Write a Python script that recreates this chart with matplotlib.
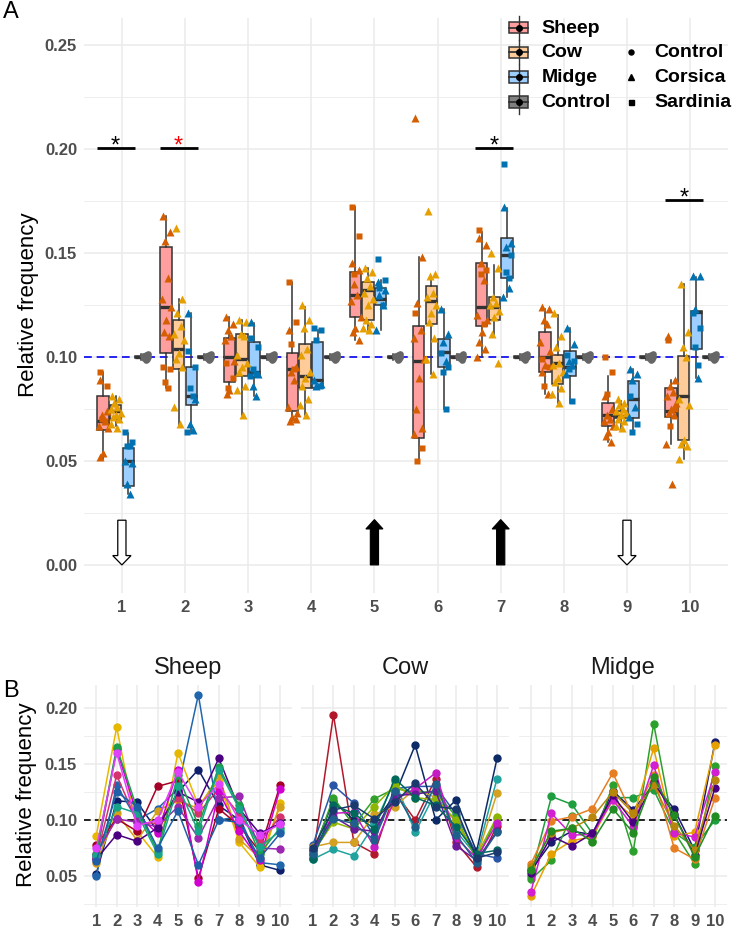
import matplotlib
matplotlib.use('Agg')
import matplotlib.pyplot as plt
from matplotlib.patches import FancyArrow, Rectangle
from matplotlib.lines import Line2D

plt.rcParams['font.family'] = ['Liberation Sans', 'DejaVu Sans']

# ---------------- DATA ----------------
features = [1, 2, 3, 4, 5, 6, 7, 8, 9, 10]
tick_labels = [str(f) for f in features]
species = ['Sheep', 'Cow', 'Midge', 'Control']

# box stats: (whisker low, q1, median, q3, whisker high)
sheep_box = [(0.051, 0.065, 0.069, 0.081, 0.093), (0.085, 0.102, 0.124, 0.153, 0.168),
             (0.082, 0.088, 0.100, 0.109, 0.119), (0.069, 0.074, 0.094, 0.102, 0.136),
             (0.108, 0.119, 0.130, 0.141, 0.172), (0.049, 0.061, 0.098, 0.115, 0.148),
             (0.100, 0.115, 0.124, 0.145, 0.160), (0.082, 0.093, 0.100, 0.112, 0.123),
             (0.059, 0.067, 0.072, 0.078, 0.091), (0.058, 0.071, 0.074, 0.085, 0.089)]
cow_box = [(0.067, 0.070, 0.074, 0.077, 0.081), (0.067, 0.094, 0.104, 0.118, 0.128),
           (0.072, 0.091, 0.099, 0.111, 0.118), (0.072, 0.085, 0.091, 0.106, 0.124),
           (0.113, 0.118, 0.132, 0.136, 0.143), (0.092, 0.116, 0.127, 0.134, 0.139),
           (0.111, 0.118, 0.124, 0.129, 0.144), (0.078, 0.087, 0.097, 0.101, 0.120),
           (0.065, 0.0705, 0.0716, 0.0742, 0.079), (0.051, 0.060, 0.081, 0.1005, 0.135)]
midge_box = [(0.034, 0.038, 0.050, 0.056, 0.0635), (0.064, 0.077, 0.081, 0.095, 0.121),
             (0.081, 0.0905, 0.093, 0.107, 0.1165), (0.085, 0.085, 0.089, 0.107, 0.113),
             (0.113, 0.125, 0.128, 0.133, 0.137), (0.075, 0.095, 0.1026, 0.1085, 0.123),
             (0.129, 0.138, 0.149, 0.157, 0.1715), (0.078, 0.091, 0.095, 0.103, 0.114),
             (0.0636, 0.0705, 0.080, 0.0886, 0.094), (0.090, 0.104, 0.1215, 0.1223, 0.1386)]
control_box = (0.0985, 0.0995, 0.1000, 0.1005, 0.1015)

# points (Corsica = triangles, Sardinia = squares, Control = circles)
sheep_corsica = [[0.089, 0.074, 0.072, 0.069, 0.067, 0.066, 0.054, 0.052],
                 [0.168, 0.160, 0.156, 0.138, 0.128, 0.124, 0.118, 0.112, 0.110],
                 [0.119, 0.116, 0.113, 0.110, 0.108, 0.098, 0.084, 0.082],
                 [0.113, 0.095, 0.093, 0.089, 0.076, 0.073, 0.071, 0.069, 0.070],
                 [0.145, 0.142, 0.135, 0.130, 0.127, 0.119, 0.114, 0.112, 0.108],
                 [0.215, 0.148, 0.126, 0.113, 0.109, 0.099, 0.090, 0.075, 0.066, 0.063],
                 [0.157, 0.154, 0.145, 0.137, 0.120, 0.118, 0.112, 0.107, 0.104, 0.100],
                 [0.124, 0.123, 0.118, 0.116, 0.107, 0.103, 0.096, 0.093, 0.082],
                 [0.081, 0.075, 0.072, 0.070, 0.069, 0.067, 0.064, 0.062, 0.059],
                 [0.110, 0.089, 0.086, 0.083, 0.081, 0.078, 0.075, 0.073, 0.072, 0.058, 0.039]]
sheep_sardinia = [[0.093, 0.086, 0.070, 0.069], [0.095, 0.094, 0.088, 0.085],
                  [0.097, 0.090, 0.085], [0.136, 0.117, 0.106, 0.094],
                  [0.172, 0.158, 0.140], [0.121, 0.056, 0.050],
                  [0.161, 0.142, 0.140, 0.116], [0.099, 0.095, 0.086],
                  [0.100, 0.093, 0.082], [0.108, 0.075, 0.067]]
cow_corsica = [[0.081, 0.080, 0.078, 0.076, 0.075, 0.073, 0.072, 0.071, 0.070, 0.068, 0.066],
               [0.162, 0.128, 0.121, 0.115, 0.111, 0.108, 0.102, 0.099, 0.095, 0.076, 0.068],
               [0.118, 0.117, 0.111, 0.110, 0.101, 0.097, 0.095, 0.093, 0.086, 0.084, 0.072],
               [0.125, 0.118, 0.114, 0.104, 0.101, 0.093, 0.090, 0.086, 0.080, 0.077, 0.072],
               [0.143, 0.141, 0.138, 0.134, 0.131, 0.128, 0.125, 0.118, 0.116, 0.114, 0.113],
               [0.170, 0.140, 0.139, 0.131, 0.129, 0.125, 0.121, 0.117, 0.109, 0.099, 0.092],
               [0.150, 0.143, 0.129, 0.126, 0.125, 0.122, 0.119, 0.111, 0.097],
               [0.121, 0.110, 0.105, 0.097, 0.096, 0.093, 0.090, 0.088, 0.085, 0.082, 0.078],
               [0.080, 0.078, 0.077, 0.075, 0.074, 0.073, 0.072, 0.070, 0.069, 0.067, 0.066],
               [0.135, 0.112, 0.105, 0.100, 0.080, 0.077, 0.060, 0.058, 0.057, 0.051]]
midge_corsica = [[0.050, 0.049, 0.039, 0.034], [0.121, 0.080, 0.068, 0.065],
                 [0.117, 0.092, 0.086, 0.081], [0.089, 0.087, 0.086],
                 [0.136, 0.132, 0.130, 0.125, 0.113], [0.123, 0.111, 0.107, 0.098],
                 [0.172, 0.155, 0.153, 0.133, 0.129], [0.114, 0.106, 0.098, 0.096, 0.092],
                 [0.094, 0.092, 0.089, 0.076, 0.071], [0.139, 0.139, 0.123, 0.090]]
midge_sardinia = [[0.064, 0.059, 0.057, 0.057], [0.103, 0.095, 0.085, 0.081, 0.064],
                  [0.109, 0.105, 0.094, 0.092, 0.091], [0.114, 0.113, 0.108, 0.086],
                  [0.147, 0.137, 0.133, 0.125], [0.102, 0.095, 0.093, 0.075],
                  [0.193, 0.149, 0.141, 0.138], [0.101, 0.098, 0.094, 0.079],
                  [0.081, 0.068, 0.064], [0.121, 0.114, 0.105, 0.096]]
control_points = [0.0985, 0.0990, 0.0993, 0.0996, 0.1000, 0.1002, 0.1004, 0.1007, 0.1010, 0.1015]

# significance marks
sig_features = [1, 2, 7, 10]
sig_levels = [0.2005, 0.2005, 0.2005, 0.1755]
sig_colors = ['black', 'red', 'black', 'black']

# arrows
arrow_features = [1, 5, 7, 9]
arrow_up = [False, True, True, False]

# panel B: individual profiles
sheep_lines = {
    '#0D1F6B': [0.052, 0.117, 0.116, 0.090, 0.125, 0.145, 0.113, 0.100, 0.060, 0.055],
    '#2166AC': [0.050, 0.131, 0.100, 0.110, 0.128, 0.212, 0.100, 0.103, 0.062, 0.060],
    '#E7B800': [0.086, 0.183, 0.090, 0.067, 0.160, 0.113, 0.135, 0.080, 0.058, 0.115],
    '#D4A017': [0.062, 0.106, 0.082, 0.108, 0.118, 0.110, 0.140, 0.083, 0.066, 0.112],
    '#A50026': [0.078, 0.101, 0.090, 0.130, 0.135, 0.048, 0.110, 0.095, 0.072, 0.131],
    '#D6336C': [0.066, 0.140, 0.098, 0.097, 0.120, 0.106, 0.128, 0.105, 0.080, 0.103],
    '#D100D1': [0.068, 0.163, 0.105, 0.088, 0.145, 0.045, 0.125, 0.090, 0.064, 0.128],
    '#9C27B0': [0.070, 0.101, 0.098, 0.094, 0.112, 0.084, 0.120, 0.121, 0.075, 0.074],
    '#4B0082': [0.065, 0.087, 0.081, 0.093, 0.125, 0.116, 0.155, 0.110, 0.088, 0.097],
    '#1B9E4B': [0.070, 0.165, 0.110, 0.072, 0.140, 0.095, 0.147, 0.113, 0.070, 0.093],
    '#17A589': [0.068, 0.112, 0.106, 0.070, 0.130, 0.090, 0.145, 0.110, 0.076, 0.090],
    '#1F5FA8': [0.063, 0.125, 0.112, 0.075, 0.108, 0.060, 0.100, 0.098, 0.066, 0.088],
    '#E040FB': [0.075, 0.160, 0.095, 0.100, 0.143, 0.112, 0.132, 0.100, 0.087, 0.096],
}
cow_lines = {
    '#B2182B': [0.066, 0.194, 0.080, 0.070, 0.125, 0.100, 0.137, 0.080, 0.058, 0.095],
    '#2A56A8': [0.078, 0.131, 0.115, 0.085, 0.128, 0.130, 0.130, 0.105, 0.070, 0.066],
    '#0B2A66': [0.072, 0.117, 0.100, 0.098, 0.122, 0.167, 0.100, 0.118, 0.072, 0.155],
    '#20A39E': [0.065, 0.074, 0.068, 0.096, 0.135, 0.089, 0.125, 0.090, 0.068, 0.137],
    '#D4A020': [0.076, 0.080, 0.080, 0.105, 0.112, 0.128, 0.120, 0.098, 0.066, 0.124],
    '#33A02C': [0.070, 0.120, 0.095, 0.119, 0.128, 0.125, 0.125, 0.103, 0.064, 0.102],
    '#8DB600': [0.071, 0.098, 0.092, 0.112, 0.131, 0.120, 0.118, 0.100, 0.068, 0.103],
    '#C51BC5': [0.069, 0.106, 0.107, 0.076, 0.118, 0.128, 0.142, 0.084, 0.066, 0.097],
    '#6A1B9A': [0.073, 0.103, 0.092, 0.090, 0.122, 0.123, 0.126, 0.077, 0.064, 0.090],
    '#00695C': [0.065, 0.113, 0.106, 0.092, 0.137, 0.120, 0.113, 0.094, 0.070, 0.073],
    '#1F5F8B': [0.070, 0.101, 0.097, 0.082, 0.126, 0.094, 0.132, 0.087, 0.062, 0.089],
    '#1A3A6E': [0.075, 0.109, 0.113, 0.101, 0.116, 0.133, 0.112, 0.110, 0.066, 0.071],
}
midge_lines = {
    '#1A1A6E': [0.055, 0.080, 0.090, 0.087, 0.126, 0.109, 0.132, 0.110, 0.073, 0.170],
    '#1E9E3E': [0.050, 0.121, 0.114, 0.088, 0.120, 0.120, 0.127, 0.089, 0.076, 0.100],
    '#2CA02C': [0.047, 0.064, 0.104, 0.081, 0.131, 0.072, 0.186, 0.0896, 0.061, 0.148],
    '#E67E22': [0.061, 0.099, 0.103, 0.110, 0.142, 0.103, 0.140, 0.075, 0.065, 0.120],
    '#E6A100': [0.032, 0.070, 0.0815, 0.085, 0.118, 0.103, 0.164, 0.086, 0.089, 0.167],
    '#D21FD2': [0.036, 0.106, 0.0866, 0.087, 0.118, 0.094, 0.149, 0.088, 0.085, 0.143],
    '#4B0082': [0.053, 0.0857, 0.0768, 0.088, 0.122, 0.098, 0.134, 0.105, 0.0688, 0.129],
    '#B8860B': [0.058, 0.0887, 0.0926, 0.1024, 0.125, 0.106, 0.131, 0.095, 0.073, 0.136],
    '#228B22': [0.0554, 0.090, 0.0926, 0.0807, 0.110, 0.0887, 0.138, 0.1045, 0.067, 0.104],
}

# ---------------- STYLE ----------------
box_fill = {'Sheep': '#FF9E9E', 'Cow': '#FFCC99', 'Midge': '#9CCFFF', 'Control': '#808080'}
pt_color = {'Sheep': '#D55E00', 'Cow': '#E69F00', 'Midge': '#0072B2', 'Control': '#666666'}
offset = {'Sheep': -0.3, 'Cow': -0.1, 'Midge': 0.1, 'Control': 0.3}
edge = '#333333'
tick_col = '#4D4D4D'
grid_col = '#EBEBEB'
jit = [-0.05, 0.06, -0.02, 0.03, -0.07, 0.08, 0.0, -0.04, 0.05, -0.08, 0.02, 0.07]

W, H = 733, 927
fig = plt.figure(figsize=(W / 100, H / 100), dpi=100)


def frac(l, t, r, b):
    return [l / W, 1 - b / H, (r - l) / W, (b - t) / H]


def base_style(ax, yt, ymin_t, show_y=True):
    for s in ax.spines.values():
        s.set_visible(False)
    ax.set_xticks(features)
    ax.set_xticklabels(tick_labels, fontweight='bold', fontsize=12, color=tick_col)
    ax.set_yticks(yt)
    if show_y:
        ax.set_yticklabels(['%.2f' % v for v in yt], fontweight='bold', fontsize=12, color=tick_col)
    else:
        ax.set_yticklabels([])
    ax.set_yticks(ymin_t, minor=True)
    ax.tick_params(which='both', length=0, pad=5)
    ax.set_axisbelow(True)
    ax.grid(True, which='major', color=grid_col, lw=1.1)
    ax.grid(True, which='minor', axis='y', color=grid_col, lw=0.6)
    ax.set_xlim(0.4, 10.6)


# ---------------- PANEL A ----------------
axA = fig.add_axes(frac(84, 18, 728, 593))
axA.set_ylim(-0.0135, 0.263)
base_style(axA, [0.0, 0.05, 0.10, 0.15, 0.20, 0.25], [0.025, 0.075, 0.125, 0.175, 0.225])
axA.axhline(0.10, color='#2424F0', ls=(0, (4, 2.5)), lw=1.4, zorder=1.5)

box_sets = {'Sheep': sheep_box, 'Cow': cow_box, 'Midge': midge_box,
            'Control': [control_box] * len(features)}
for sp in species:
    stats = [dict(whislo=b[0], q1=b[1], med=b[2], q3=b[3], whishi=b[4], fliers=[])
             for b in box_sets[sp]]
    pos = [f + offset[sp] for f in features]
    axA.bxp(stats, positions=pos, widths=0.18, patch_artist=True, showfliers=False,
            showcaps=False, manage_ticks=False,
            boxprops=dict(facecolor=box_fill[sp], edgecolor=edge, lw=1.1),
            whiskerprops=dict(color=edge, lw=1.1),
            medianprops=dict(color=edge, lw=2.4), zorder=2)


def scatter_pts(sets, sp, marker, ms):
    for f, vals in zip(features, sets):
        xs = [f + offset[sp] + jit[i % len(jit)] for i in range(len(vals))]
        axA.plot(xs, vals, ls='none', marker=marker, ms=ms, color=pt_color[sp],
                 mec='none', zorder=3)


scatter_pts(sheep_corsica, 'Sheep', '^', 5.2)
scatter_pts(sheep_sardinia, 'Sheep', 's', 4.3)
scatter_pts(cow_corsica, 'Cow', '^', 5.2)
scatter_pts(midge_corsica, 'Midge', '^', 5.2)
scatter_pts(midge_sardinia, 'Midge', 's', 4.3)
for f in features:
    xs = [f + 0.33 + abs(jit[i % len(jit)]) for i in range(len(control_points))]
    axA.plot(xs, control_points, ls='none', marker='o', ms=4.8, color=pt_color['Control'],
             mec='none', zorder=3)

for f, lvl, c in zip(sig_features, sig_levels, sig_colors):
    axA.plot([f - 0.4, f + 0.2], [lvl, lvl], color='black', lw=2.0, solid_capstyle='butt', zorder=4)
    axA.text(f - 0.1, lvl - 0.0022, '*', ha='center', va='baseline', fontsize=17, color=c, zorder=4)

for f, up in zip(arrow_features, arrow_up):
    if up:
        arr = FancyArrow(f, 0.0, 0, 0.0218, width=0.13, head_width=0.27, head_length=0.0045,
                         length_includes_head=True, fc='black', ec='black', lw=0.8, zorder=4)
    else:
        arr = FancyArrow(f, 0.0215, 0, -0.0215, width=0.13, head_width=0.29, head_length=0.0045,
                         length_includes_head=True, fc='white', ec='black', lw=0.9, zorder=4)
    axA.add_patch(arr)

# ---------------- PANEL B ----------------
facet_px = [(84, 292.3), (300.7, 509.3), (518.7, 727.3)]
facet_names = ['Sheep', 'Cow', 'Midge']
facet_data = [sheep_lines, cow_lines, midge_lines]
for i, ((l, r), name, lines) in enumerate(zip(facet_px, facet_names, facet_data)):
    ax = fig.add_axes(frac(l, 684.5, r, 906.7))
    ax.set_ylim(0.0226, 0.221)
    base_style(ax, [0.05, 0.10, 0.15, 0.20], [0.025, 0.075, 0.125, 0.175], show_y=(i == 0))
    ax.axhline(0.10, color='black', ls=(0, (4, 2.5)), lw=1.2, zorder=1.5)
    for col, vals in lines.items():
        ax.plot(features, vals, '-o', color=col, lw=1.1, ms=5, zorder=3)

# ---------------- OVERLAY (labels & legend) ----------------
axO = fig.add_axes([0, 0, 1, 1], zorder=10)
axO.set_xlim(0, W)
axO.set_ylim(H, 0)
axO.axis('off')
axO.patch.set_alpha(0)

axO.text(3, 1, 'A', fontsize=17, ha='left', va='top', color='black')
axO.text(3, 680, 'B', fontsize=17, ha='left', va='top', color='black')
axO.text(29, 305, 'Relative frequency', rotation=90, ha='center', va='center', fontsize=16)
axO.text(27, 795, 'Relative frequency', rotation=90, ha='center', va='center', fontsize=16)
for (l, r), name in zip(facet_px, facet_names):
    axO.text((l + r) / 2, 668, name, ha='center', va='center', fontsize=17, color='#1A1A1A')

# legend: species keys
row_y = [27.5, 52.3, 77.2, 101.8]
kx = 518.6
for sp, yc in zip(species, row_y):
    axO.add_line(Line2D([kx, kx], [yc - 12, yc + 12], color=edge, lw=1.0))
    axO.add_patch(Rectangle((kx - 9.2, yc - 5.8), 18.4, 11.6, facecolor=box_fill[sp],
                            edgecolor=edge, lw=1.1))
    axO.add_line(Line2D([kx - 9.2, kx + 9.2], [yc, yc], color=edge, lw=1.3))
    axO.plot([kx], [yc], marker='o', ms=4, color='black', ls='none')
    axO.text(541.5, yc + 0.5, sp, ha='left', va='center', fontsize=14, fontweight='bold')

shape_names = ['Control', 'Corsica', 'Sardinia']
shape_markers = [('o', 3.6), ('^', 4.6), ('s', 3.6)]
for nm, (mk, ms), yc in zip(shape_names, shape_markers, row_y[1:]):
    axO.plot([631], [yc], marker=mk, ms=ms, color='black', ls='none')
    axO.text(654, yc + 0.5, nm, ha='left', va='center', fontsize=14, fontweight='bold')

fig.savefig('out.png', dpi=100)
